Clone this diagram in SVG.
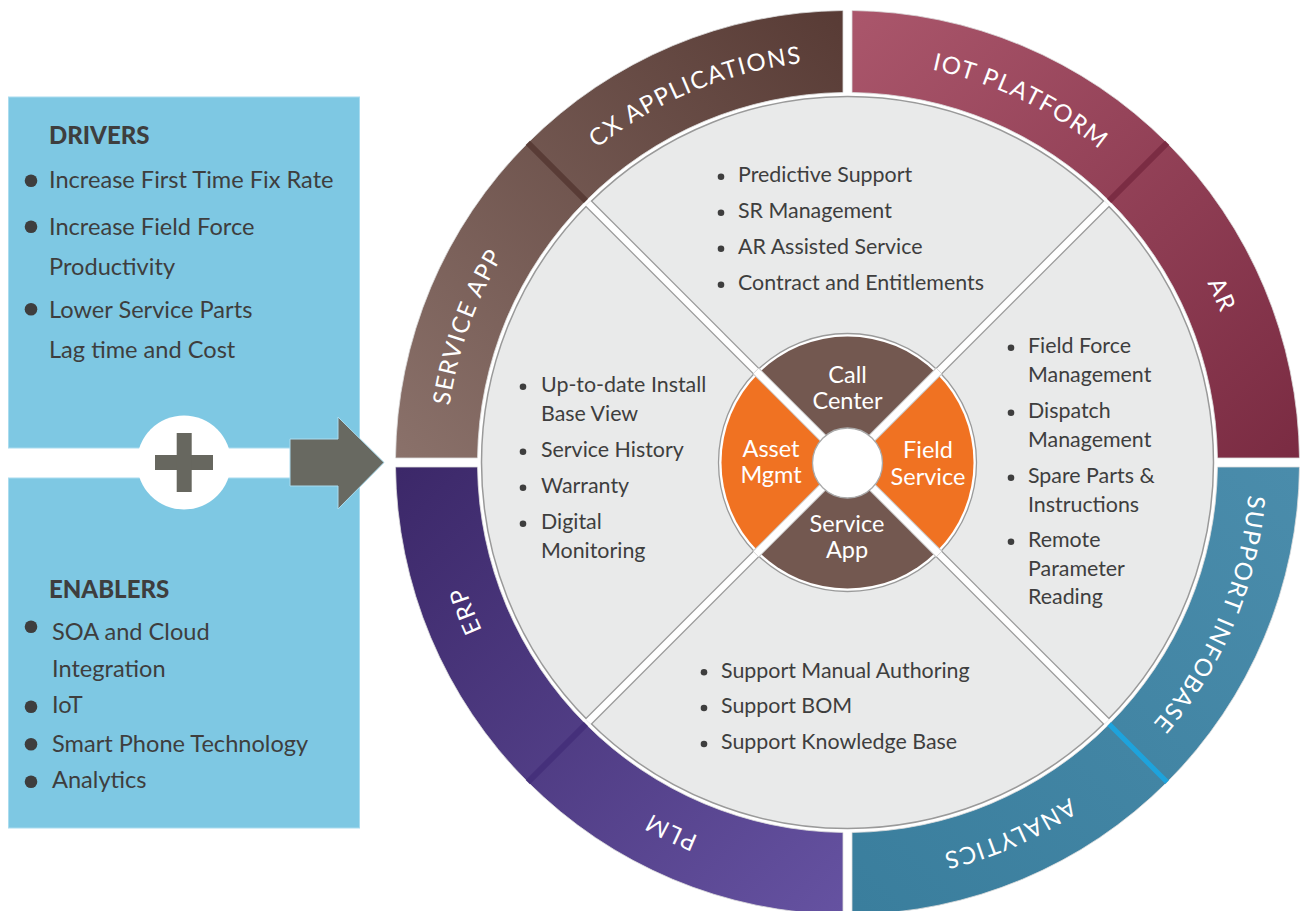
<svg xmlns="http://www.w3.org/2000/svg" width="1310" height="911" viewBox="0 0 1310 911">
<style>
text{font-family:Lato,"Liberation Sans",sans-serif}
.ring{fill:#fff;font-size:24px;letter-spacing:1.5px}
.it{fill:#3e3e3e;font-size:21.4px}
.lp{fill:#3e3e3e;font-size:23.6px}
.hd{fill:#3e3e3e;font-size:24px;font-weight:900}
.in{fill:#fff;font-size:23.5px;text-anchor:middle}
.b{fill:#3e3e3e}
</style>
<defs>
<linearGradient id="gTL" gradientUnits="userSpaceOnUse" x1="400" y1="460" x2="845" y2="15"><stop offset="0" stop-color="#8a716a"/><stop offset="1" stop-color="#583b35"/></linearGradient>
<linearGradient id="gTR" gradientUnits="userSpaceOnUse" x1="855" y1="15" x2="1298" y2="458"><stop offset="0" stop-color="#aa566b"/><stop offset="1" stop-color="#7a2b42"/></linearGradient>
<linearGradient id="gBL" gradientUnits="userSpaceOnUse" x1="400" y1="470" x2="845" y2="910"><stop offset="0" stop-color="#3c2869"/><stop offset="1" stop-color="#6552a1"/></linearGradient>
<linearGradient id="gBR" gradientUnits="userSpaceOnUse" x1="1298" y1="470" x2="855" y2="910"><stop offset="0" stop-color="#4a8cab"/><stop offset="1" stop-color="#3a7e9d"/></linearGradient>
<path id="arc" d="M445.5,462.5 A402,402 0 1 1 1249.5,462.5 A402,402 0 1 1 445.5,462.5"/>
</defs>

<g id="drivers">
<rect x="8.5" y="97" width="351" height="351" fill="#7ec8e3" stroke="#aadcef"/>
<text class="hd" x="49" y="144">DRIVERS</text>
<circle class="b" cx="31" cy="180.7" r="6.3"/><text class="lp" x="49" y="188">Increase First Time Fix Rate</text>
<circle class="b" cx="31" cy="226.7" r="6.3"/><text class="lp" x="49" y="235">Increase Field Force</text>
<text class="lp" x="49" y="275">Productivity</text>
<circle class="b" cx="31" cy="309.3" r="6.3"/><text class="lp" x="49" y="318">Lower Service Parts</text>
<text class="lp" x="49" y="358">Lag time and Cost</text>
</g>

<g id="enablers">
<rect x="8.5" y="478" width="351" height="350" fill="#7ec8e3" stroke="#aadcef"/>
<text class="hd" x="49" y="598">ENABLERS</text>
<circle class="b" cx="31" cy="626.7" r="6.3"/><text class="lp" x="52" y="640">SOA and Cloud</text>
<text class="lp" x="52" y="677">Integration</text>
<circle class="b" cx="31" cy="706.7" r="6.3"/><text class="lp" x="52" y="713">IoT</text>
<circle class="b" cx="31" cy="744.3" r="6.3"/><text class="lp" x="52" y="751.5">Smart Phone Technology</text>
<circle class="b" cx="31" cy="781.7" r="6.3"/><text class="lp" x="52" y="788">Analytics</text>
</g>

<g id="plus">
<circle cx="184" cy="462.5" r="47" fill="#fff"/>
<rect x="155" y="455" width="58" height="15" fill="#67675f"/>
<rect x="176.7" y="433" width="15" height="59" fill="#67675f"/>
</g>

<g id="connectors">
<polygon points="290,439 338,439 338,417 384,462.5 338,509 338,486 290,486" fill="#686961" stroke="#aadcef" stroke-width="1"/>
</g>

<g id="ring">
<path d="M843,10.52 A452,452 0 0 0 395.52,458 L477.53,458 A370,370 0 0 1 843,92.53 Z" fill="url(#gTL)" stroke="#ddd" stroke-width="0.8"/>
<path d="M852,10.52 A452,452 0 0 1 1299.48,458 L1217.47,458 A370,370 0 0 0 852,92.53 Z" fill="url(#gTR)" stroke="#ddd" stroke-width="0.8"/>
<path d="M1299.48,467 A452,452 0 0 1 852,914.48 L852,832.47 A370,370 0 0 0 1217.47,467 Z" fill="url(#gBR)" stroke="#ddd" stroke-width="0.8"/>
<path d="M843,914.48 A452,452 0 0 1 395.52,467 L477.53,467 A370,370 0 0 0 843,832.47 Z" fill="url(#gBL)" stroke="#ddd" stroke-width="0.8"/>
<line x1="585.87" y1="200.87" x2="527.89" y2="142.89" stroke="#593c36" stroke-width="6"/>
<line x1="1109.13" y1="200.87" x2="1167.11" y2="142.89" stroke="#7b2c43" stroke-width="6"/>
<line x1="585.87" y1="724.13" x2="527.89" y2="782.11" stroke="#45307b" stroke-width="6"/>
<line x1="1109.13" y1="724.13" x2="1167.11" y2="782.11" stroke="#1ea3dc" stroke-width="5"/>
</g>

<g id="ring-labels" class="ring">
<text><textPath href="#arc" startOffset="5.45%" text-anchor="middle">SERVICE APP</textPath></text>
<text><textPath href="#arc" startOffset="18.75%" text-anchor="middle">CX APPLICATIONS</textPath></text>
<text><textPath href="#arc" startOffset="32.1%" text-anchor="middle">IOT PLATFORM</textPath></text>
<text><textPath href="#arc" startOffset="43.3%" text-anchor="middle">AR</textPath></text>
<text><textPath href="#arc" startOffset="56.3%" text-anchor="middle">SUPPORT INFOBASE</textPath></text>
<text><textPath href="#arc" startOffset="68.45%" text-anchor="middle">ANALYTICS</textPath></text>
<text><textPath href="#arc" startOffset="82.1%" text-anchor="middle">PLM</textPath></text>
<text><textPath href="#arc" startOffset="94.1%" text-anchor="middle">ERP</textPath></text>
</g>

<g id="hub">
<circle cx="847.5" cy="462.5" r="366" fill="#e9eaea" stroke="#9a9a9a" stroke-width="1.5"/>
<line x1="588.7" y1="203.7" x2="1106.3" y2="721.3" stroke="#9a9a9a" stroke-width="9"/>
<line x1="1106.3" y1="203.7" x2="588.7" y2="721.3" stroke="#9a9a9a" stroke-width="9"/>
<line x1="588.2" y1="203.2" x2="1106.8" y2="721.8" stroke="#fff" stroke-width="6.5"/>
<line x1="1106.8" y1="203.2" x2="588.2" y2="721.8" stroke="#fff" stroke-width="6.5"/>
</g>

<g id="top-quadrant">
<circle class="b" cx="721" cy="176.7" r="3.3"/><text class="it" x="738" y="182">Predictive Support</text>
<circle class="b" cx="721" cy="212.7" r="3.3"/><text class="it" x="738" y="218">SR Management</text>
<circle class="b" cx="721" cy="248.7" r="3.3"/><text class="it" x="738" y="254">AR Assisted Service</text>
<circle class="b" cx="721" cy="284.7" r="3.3"/><text class="it" x="738" y="290">Contract and Entitlements</text>
</g>

<g id="right-quadrant">
<circle class="b" cx="1011" cy="347.7" r="3.3"/><text class="it" x="1028" y="353">Field Force</text>
<text class="it" x="1028" y="382">Management</text>
<circle class="b" cx="1011" cy="412.7" r="3.3"/><text class="it" x="1028" y="418">Dispatch</text>
<text class="it" x="1028" y="447">Management</text>
<circle class="b" cx="1011" cy="477.7" r="3.3"/><text class="it" x="1028" y="483">Spare Parts &amp;</text>
<text class="it" x="1028" y="512">Instructions</text>
<circle class="b" cx="1011" cy="541.7" r="3.3"/><text class="it" x="1028" y="547">Remote</text>
<text class="it" x="1028" y="576">Parameter</text>
<text class="it" x="1028" y="604">Reading</text>
</g>

<g id="left-quadrant">
<circle class="b" cx="523" cy="386.7" r="3.3"/><text class="it" x="541" y="392">Up-to-date Install</text>
<text class="it" x="541" y="421">Base View</text>
<circle class="b" cx="523" cy="451.7" r="3.3"/><text class="it" x="541" y="457">Service History</text>
<circle class="b" cx="523" cy="487.7" r="3.3"/><text class="it" x="541" y="493">Warranty</text>
<circle class="b" cx="523" cy="523.7" r="3.3"/><text class="it" x="541" y="529">Digital</text>
<text class="it" x="541" y="558">Monitoring</text>
</g>

<g id="bottom-quadrant">
<circle class="b" cx="704" cy="672.3" r="3.3"/><text class="it" x="721" y="677.7">Support Manual Authoring</text>
<circle class="b" cx="704" cy="708" r="3.3"/><text class="it" x="721" y="713.3">Support BOM</text>
<circle class="b" cx="704" cy="744" r="3.3"/><text class="it" x="721" y="749.3">Support Knowledge Base</text>
</g>

<g id="core">
<circle cx="847.5" cy="462.5" r="129" fill="#fff" stroke="#9a9a9a" stroke-width="1.3"/>
<path d="M847.5,462.5 L758.4,373.4 A126,126 0 0 1 936.6,373.4 Z" fill="#735850"/>
<path d="M847.5,462.5 L936.6,373.4 A126,126 0 0 1 936.6,551.6 Z" fill="#f07222"/>
<path d="M847.5,462.5 L936.6,551.6 A126,126 0 0 1 758.4,551.6 Z" fill="#735850"/>
<path d="M847.5,462.5 L758.4,551.6 A126,126 0 0 1 758.4,373.4 Z" fill="#f07222"/>
<line x1="756" y1="371" x2="939" y2="554" stroke="#c8c8c8" stroke-width="9"/>
<line x1="939" y1="371" x2="756" y2="554" stroke="#c8c8c8" stroke-width="9"/>
<line x1="756" y1="371" x2="939" y2="554" stroke="#fff" stroke-width="7"/>
<line x1="939" y1="371" x2="756" y2="554" stroke="#fff" stroke-width="7"/>
<circle cx="847.5" cy="463" r="35" fill="#fff" stroke="#aaa" stroke-width="1.3"/>
</g>

<g id="call-center"><text class="in" x="847.5" y="383">Call</text><text class="in" x="847.5" y="409">Center</text></g>
<g id="asset-mgmt"><text class="in" x="771" y="457">Asset</text><text class="in" x="771" y="483">Mgmt</text></g>
<g id="field-service"><text class="in" x="928" y="458">Field</text><text class="in" x="928" y="485">Service</text></g>
<g id="service-app"><text class="in" x="847" y="532">Service</text><text class="in" x="847" y="558">App</text></g>
</svg>
